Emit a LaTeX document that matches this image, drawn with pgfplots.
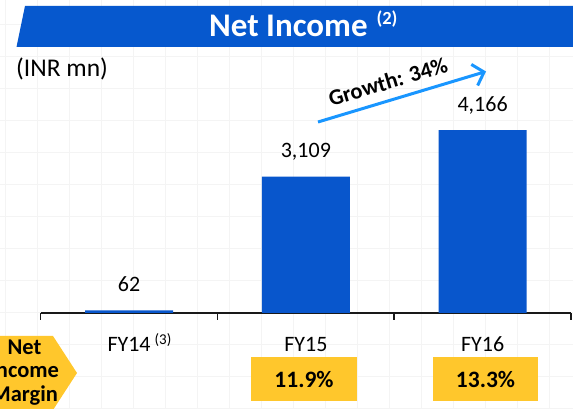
\documentclass[border=0pt]{standalone}
\usepackage{fontspec}
\setmainfont{Carlito}
\usepackage{pgfplots}
\pgfplotsset{compat=1.18}
\usetikzlibrary{arrows.meta}
\definecolor{barblue}{RGB}{8,86,204}
\definecolor{bannerblue}{RGB}{6,88,206}
\definecolor{ylw}{RGB}{255,199,44}
\definecolor{arrblue}{RGB}{25,150,255}
\definecolor{gridc}{RGB}{244,244,244}
\begin{document}
\begin{tikzpicture}[x=1pt,y=1pt]
\useasboundingbox (0,0) rectangle (573,409);
\clip (0,0) rectangle (573,409);
\fill[white] (0,0) rectangle (573,409);
\foreach \gx in {5,37,...,573} \draw[gridc, line width=0.7pt] (\gx,0) -- (\gx,409);
\foreach \gy in {1,33,...,409} \draw[gridc, line width=0.7pt] (0,\gy) -- (573,\gy);
% banner
\fill[bannerblue] (25,403) -- (580,403) -- (580,362) -- (16.5,362) -- cycle;
\node[anchor=base west, inner sep=0, text=white, font=\fontsize{33}{38}\selectfont\bfseries] at (209,372.3) {Net Income\hspace{9pt}\raisebox{11.7pt}{\fontsize{18.5}{22}\selectfont (2)}};
\node[anchor=base west, inner sep=0, font=\fontsize{25.5}{30}\selectfont] at (16,332.3) {(INR mn)};
\begin{axis}[
  at={(40.7pt,96pt)}, anchor=south west, scale only axis,
  width=530.3pt, height=250pt,
  xmin=-0.5, xmax=2.5, ymin=0, ymax=5695,
  axis x line=bottom, axis y line=none,
  axis line style={-, line width=1.5pt, color=black!90},
  xtick={0,1,2},
  xticklabels={FY14\rlap{\hspace{4pt}\raisebox{7.5pt}{\fontsize{15}{17}\selectfont (3)}}, FY15, FY16},
  major tick length=0pt,
  minor xtick={-0.5,0.5,1.5,2.5},
  minor tick length=7pt, tick align=outside,
  tick style={line width=1.5pt, black!90},
  xticklabel style={font=\fontsize{22}{26}\selectfont, anchor=base, yshift=-38.7pt, inner sep=0},
  ybar, bar width=88pt,
  nodes near coords={\pgfmathprintnumber[1000 sep={,},assume math mode=true]{\pgfplotspointmeta}},
  nodes near coords style={font=\fontsize{22}{26}\selectfont, anchor=base, yshift=19pt, inner sep=0, text=black},
  clip=false,
]
\addplot[fill=barblue, draw=none] coordinates {(0,62) (1,3109) (2,4166)};
\end{axis}
% growth arrow
\draw[arrblue, line width=3pt, -{Straight Barb[length=10pt,width=22pt]}] (318,287) -- (486,337.5);
\node[rotate=16.7, inner sep=0, font=\fontsize{22.5}{26}\selectfont\bfseries] at (388,327.5) {Growth: 34\%};
% margin row
\fill[ylw] (-5,73) -- (53,73) -- (77,36) -- (53,-1) -- (-5,-1) -- cycle;
\node[anchor=base, inner sep=0, font=\fontsize{22.5}{26}\selectfont\bfseries] at (24.5,54) {Net};
\node[anchor=base, inner sep=0, font=\fontsize{22.5}{26}\selectfont\bfseries] at (24.5,31) {Income};
\node[anchor=base, inner sep=0, font=\fontsize{22.5}{26}\selectfont\bfseries] at (24.5,7) {Margin};
\fill[ylw] (251,8) rectangle (357,52);
\fill[ylw] (433,8) rectangle (538,52);
\node[anchor=base, inner sep=0, font=\fontsize{23.5}{27}\selectfont\bfseries] at (304,21) {11.9\%};
\node[anchor=base, inner sep=0, font=\fontsize{23.5}{27}\selectfont\bfseries] at (485.5,21) {13.3\%};
\end{tikzpicture}
\end{document}
